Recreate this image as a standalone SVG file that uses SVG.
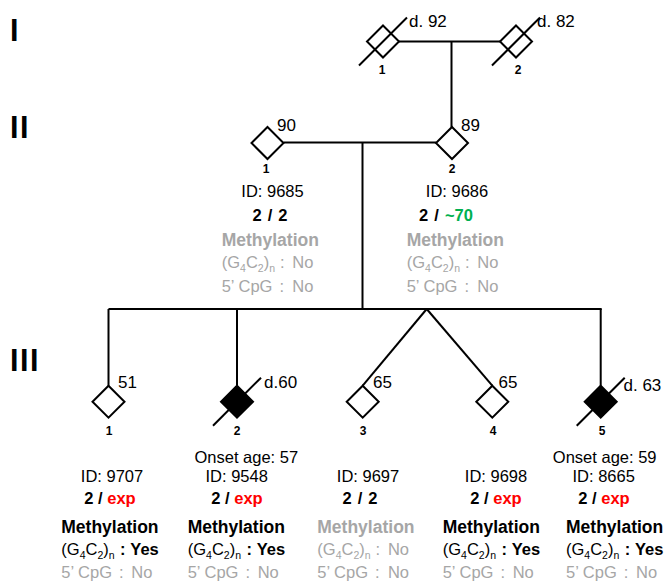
<svg xmlns="http://www.w3.org/2000/svg" xmlns:xlink="http://www.w3.org/1999/xlink" width="667" height="584" viewBox="0 0 667 584">
<defs>
<style>
.ln{stroke:#000;stroke-width:2;fill:none}
.dia{stroke:#000;stroke-width:2;fill:#fff}
.aff{stroke:#000;stroke-width:2;fill:#000}
.t{font-family:"Liberation Sans",Arial,sans-serif;font-size:16.5px;fill:#000}
.b{font-weight:bold}
.mt{font-size:17.5px;font-weight:bold}
.g{fill:#a6a6a6}
.red{fill:#ff0000}
.grn{fill:#00b050}
.m{text-anchor:middle}
.sub{font-size:10.5px}
.age{font-size:17px}
.num{font-family:"Liberation Sans",Arial,sans-serif;font-weight:bold;font-size:12px;text-anchor:middle;fill:#000}
.gen{font-family:"Liberation Sans",Arial,sans-serif;font-weight:bold;font-size:30.5px;letter-spacing:1.5px;fill:#000}
</style>
<path id="dm" d="M0,-16 L16,0 L0,16 L-16,0 Z"/>
</defs>
<rect width="667" height="584" fill="#fff"/>

<g id="generation-labels">
<text class="gen" x="10" y="41">I</text>
<text class="gen" x="10" y="138">II</text>
<text class="gen" x="10" y="371">III</text>
</g>

<g id="connectors" class="ln">
<path d="M399,41.5 H500"/>
<path d="M451.5,41.5 V127"/>
<path d="M283.5,142.5 H436"/>
<path d="M362.5,142.5 V309"/>
<path d="M108.5,309 H601.7"/>
<path d="M108.5,309 V385.7"/>
<path d="M237,309 V385.7"/>
<path d="M426.7,309 L362.7,385.7"/>
<path d="M426.7,309 L492.3,385.7"/>
<path d="M600.7,309 V385.7"/>
</g>

<g id="I-1">
<use xlink:href="#dm" href="#dm" x="383" y="41.5" class="dia"/>
<line class="ln" x1="359" y1="65.5" x2="407" y2="17.5"/>
<text class="num" x="382" y="74">1</text>
<text class="t age" x="409" y="27">d. 92</text>
</g>

<g id="I-2">
<use xlink:href="#dm" href="#dm" x="516" y="41.5" class="dia"/>
<line class="ln" x1="492" y1="65.5" x2="540" y2="17.5"/>
<text class="num" x="518" y="74">2</text>
<text class="t age" x="537" y="27">d. 82</text>
</g>

<g id="II-1">
<use xlink:href="#dm" href="#dm" x="267.5" y="143" class="dia"/>
<text class="t age" x="277" y="131">90</text>
<text class="num" x="266" y="173">1</text>
<text class="t m" x="272.5" y="197.3">ID: 9685</text>
<text class="t b m" x="270" y="220.7" word-spacing="1.5">2 / 2</text>
<text class="t mt g" x="221.7" y="246">Methylation</text>
<text class="t g" x="221.7" y="268">(G<tspan class="sub" dy="4">4</tspan><tspan dy="-4">C</tspan><tspan class="sub" dy="4">2</tspan><tspan dy="-4">)</tspan><tspan class="sub" dy="4">n</tspan></text>
<text class="t g" x="280" y="268">:</text>
<text class="t g" x="292.3" y="268">No</text>
<text class="t g" x="221.7" y="291.7">5’ CpG</text>
<text class="t g" x="279.5" y="291.7">:</text>
<text class="t g" x="292.3" y="291.7">No</text>
</g>

<g id="II-2">
<use xlink:href="#dm" href="#dm" x="452" y="143" class="dia"/>
<text class="t age" x="461" y="131">89</text>
<text class="num" x="452" y="173">2</text>
<text class="t m" x="457" y="197.3">ID: 9686</text>
<text class="t b m" x="446" y="220.7" word-spacing="1.5">2 / <tspan class="grn">~70</tspan></text>
<text class="t mt g" x="406.7" y="246">Methylation</text>
<text class="t g" x="406.7" y="268">(G<tspan class="sub" dy="4">4</tspan><tspan dy="-4">C</tspan><tspan class="sub" dy="4">2</tspan><tspan dy="-4">)</tspan><tspan class="sub" dy="4">n</tspan></text>
<text class="t g" x="465" y="268">:</text>
<text class="t g" x="477.3" y="268">No</text>
<text class="t g" x="406.7" y="291.7">5’ CpG</text>
<text class="t g" x="464.5" y="291.7">:</text>
<text class="t g" x="477.3" y="291.7">No</text>
</g>

<g id="III-1">
<use xlink:href="#dm" href="#dm" x="108.5" y="401.7" class="dia"/>
<text class="t age" x="118" y="388">51</text>
<text class="num" x="109" y="435">1</text>
<text class="t m" x="112" y="481.7">ID: 9707</text>
<text class="t b m" x="110" y="504">2 / <tspan class="red">exp</tspan></text>
<text class="t mt" x="61.3" y="533.3">Methylation</text>
<text class="t" x="61.3" y="555">(G<tspan class="sub" dy="4">4</tspan><tspan dy="-4">C</tspan><tspan class="sub" dy="4">2</tspan><tspan dy="-4">)</tspan><tspan class="sub" dy="4">n</tspan></text>
<text class="t b" x="120" y="555">:</text>
<text class="t b" x="130.3" y="555">Yes</text>
<text class="t g" x="61.3" y="578.3">5’ CpG</text>
<text class="t g" x="119" y="578.3">:</text>
<text class="t g" x="131.3" y="578.3">No</text>
</g>

<g id="III-2">
<use xlink:href="#dm" href="#dm" x="237" y="401.7" class="aff"/>
<line class="ln" x1="213" y1="425.7" x2="261" y2="377.7"/>
<text class="t age" x="264" y="388">d.60</text>
<text class="num" x="237" y="435">2</text>
<text class="t m" x="246.3" y="463.3">Onset age: 57</text>
<text class="t m" x="236.7" y="481.7">ID: 9548</text>
<text class="t b m" x="237" y="504">2 / <tspan class="red">exp</tspan></text>
<text class="t mt" x="187.7" y="533.3">Methylation</text>
<text class="t" x="187.7" y="555">(G<tspan class="sub" dy="4">4</tspan><tspan dy="-4">C</tspan><tspan class="sub" dy="4">2</tspan><tspan dy="-4">)</tspan><tspan class="sub" dy="4">n</tspan></text>
<text class="t b" x="246.4" y="555">:</text>
<text class="t b" x="256.7" y="555">Yes</text>
<text class="t g" x="187.7" y="578.3">5’ CpG</text>
<text class="t g" x="245.4" y="578.3">:</text>
<text class="t g" x="257.7" y="578.3">No</text>
</g>

<g id="III-3">
<use xlink:href="#dm" href="#dm" x="362.7" y="401.7" class="dia"/>
<text class="t age" x="373" y="388">65</text>
<text class="num" x="363" y="435">3</text>
<text class="t m" x="368" y="481.7">ID: 9697</text>
<text class="t b m" x="360" y="504" word-spacing="1.5">2 / 2</text>
<text class="t mt g" x="317.3" y="533.3">Methylation</text>
<text class="t g" x="317.3" y="555">(G<tspan class="sub" dy="4">4</tspan><tspan dy="-4">C</tspan><tspan class="sub" dy="4">2</tspan><tspan dy="-4">)</tspan><tspan class="sub" dy="4">n</tspan></text>
<text class="t g" x="375.6" y="555">:</text>
<text class="t g" x="387.9" y="555">No</text>
<text class="t g" x="317.3" y="578.3">5’ CpG</text>
<text class="t g" x="375" y="578.3">:</text>
<text class="t g" x="387.9" y="578.3">No</text>
</g>

<g id="III-4">
<use xlink:href="#dm" href="#dm" x="492.3" y="401.7" class="dia"/>
<text class="t age" x="498.5" y="388">65</text>
<text class="num" x="493" y="435">4</text>
<text class="t m" x="496" y="481.7">ID: 9698</text>
<text class="t b m" x="496" y="504">2 / <tspan class="red">exp</tspan></text>
<text class="t mt" x="442.7" y="533.3">Methylation</text>
<text class="t" x="442.7" y="555">(G<tspan class="sub" dy="4">4</tspan><tspan dy="-4">C</tspan><tspan class="sub" dy="4">2</tspan><tspan dy="-4">)</tspan><tspan class="sub" dy="4">n</tspan></text>
<text class="t b" x="501.4" y="555">:</text>
<text class="t b" x="511.7" y="555">Yes</text>
<text class="t g" x="442.7" y="578.3">5’ CpG</text>
<text class="t g" x="500.4" y="578.3">:</text>
<text class="t g" x="512.7" y="578.3">No</text>
</g>

<g id="III-5">
<use xlink:href="#dm" href="#dm" x="600.7" y="401.7" class="aff"/>
<line class="ln" x1="576.7" y1="425.7" x2="624.7" y2="377.7"/>
<text class="t age" x="623.5" y="391">d. 63</text>
<text class="num" x="602" y="435">5</text>
<text class="t m" x="604.7" y="463.3">Onset age: 59</text>
<text class="t m" x="603.7" y="481.7">ID: 8665</text>
<text class="t b m" x="604" y="504">2 / <tspan class="red">exp</tspan></text>
<text class="t mt" x="566" y="533.3">Methylation</text>
<text class="t" x="566" y="555">(G<tspan class="sub" dy="4">4</tspan><tspan dy="-4">C</tspan><tspan class="sub" dy="4">2</tspan><tspan dy="-4">)</tspan><tspan class="sub" dy="4">n</tspan></text>
<text class="t b" x="624.7" y="555">:</text>
<text class="t b" x="635" y="555">Yes</text>
<text class="t g" x="566" y="578.3">5’ CpG</text>
<text class="t g" x="623.7" y="578.3">:</text>
<text class="t g" x="636" y="578.3">No</text>
</g>
</svg>
